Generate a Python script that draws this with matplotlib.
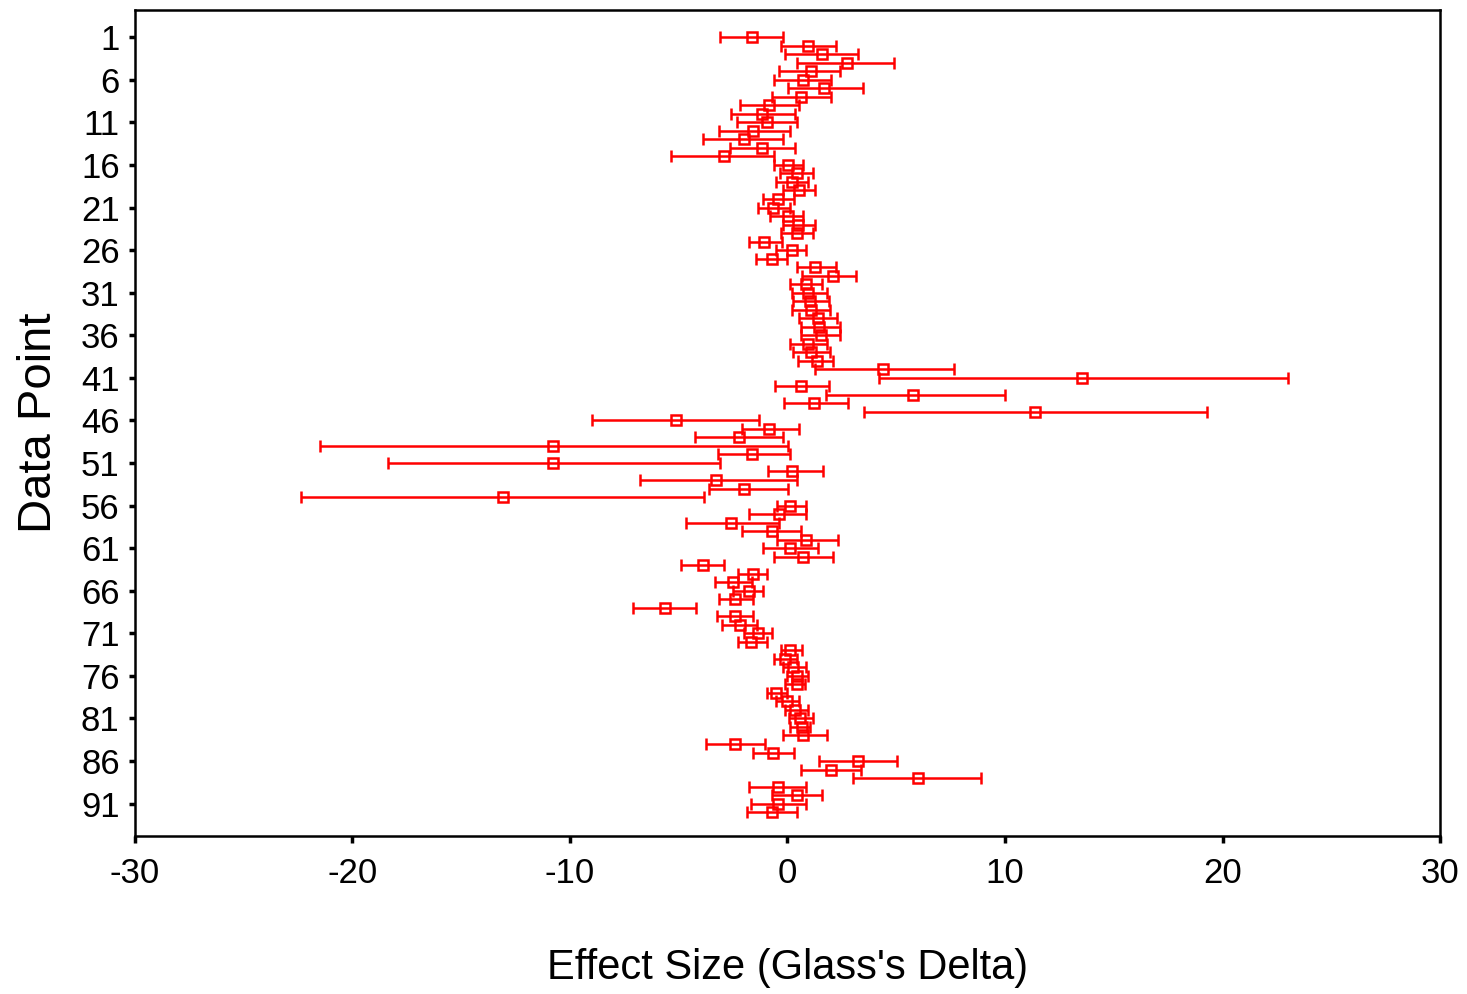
import numpy as np
import matplotlib
matplotlib.use("Agg")
import matplotlib.pyplot as plt

plt.rcParams['font.family'] = ['Liberation Sans', 'DejaVu Sans']
plt.rcParams['axes.unicode_minus'] = False

# effect sizes (Glass's delta) with lower / upper confidence limits, data points 1..92
effect = [-1.65, 0.96, 1.57, 2.72, 1.07, 0.73, 1.68, 0.64, -0.84, -1.16,
          -0.96, -1.57, -2.00, -1.16, -2.92, 0.03, 0.42, 0.19, 0.54, -0.42,
          -0.65, 0.03, 0.50, 0.42, -1.08, 0.20, -0.72, 1.26, 2.11, 0.85,
          0.95, 1.05, 1.10, 1.40, 1.45, 1.55, 0.95, 1.10, 1.35, 4.40,
          13.55, 0.62, 5.75, 1.20, 11.40, -5.13, -0.85, -2.25, -10.80, -1.65,
          -10.80, 0.22, -3.30, -2.00, -13.10, 0.11, -0.39, -2.61, -0.73, 0.84,
          0.11, 0.73, -3.87, -1.57, -2.52, -1.77, -2.41, -5.63, -2.41, -2.18,
          -1.37, -1.68, 0.11, -0.11, 0.27, 0.42, 0.42, -0.53, -0.04, 0.34,
          0.57, 0.65, 0.73, -2.41, -0.65, 3.26, 2.00, 5.98, -0.42, 0.42,
          -0.42, -0.73]
lower = [-3.10, -0.30, -0.10, 0.44, -0.41, -0.62, 0.01, -0.71, -2.18, -2.60,
         -2.34, -3.13, -3.87, -2.64, -5.34, -0.61, -0.34, -0.53, -0.19, -1.14,
         -1.36, -0.80, -0.19, -0.30, -1.77, -0.52, -1.46, 0.42, 0.65, 0.11,
         0.19, 0.27, 0.20, 0.54, 0.62, 0.62, 0.11, 0.27, 0.50, 1.25,
         4.20, -0.56, 1.75, -0.17, 3.53, -8.99, -2.11, -4.25, -21.50, -3.21,
         -18.36, -0.88, -6.78, -3.60, -22.38, -0.50, -1.77, -4.68, -2.08, -0.50,
         -1.14, -0.62, -4.91, -2.29, -3.33, -2.49, -3.13, -7.10, -3.26, -3.03,
         -1.99, -2.29, -0.30, -0.62, -0.22, -0.04, -0.11, -0.96, -0.53, -0.11,
         0.08, 0.11, -0.19, -3.76, -1.57, 1.45, 0.62, 3.03, -1.77, -0.73,
         -1.68, -1.88]
upper = [-0.21, 2.22, 3.26, 4.91, 2.41, 1.98, 3.46, 1.98, 0.54, 0.33,
         0.42, 0.11, -0.21, 0.33, -0.62, 0.73, 1.16, 0.96, 1.26, 0.30,
         0.11, 0.70, 1.26, 1.16, -0.25, 0.85, 0.00, 2.22, 3.15, 1.57,
         1.80, 1.90, 1.95, 2.29, 2.41, 2.41, 1.80, 1.95, 2.10, 7.65,
         23.00, 1.90, 10.00, 2.78, 19.30, -1.33, 0.55, -0.20, 0.02, 0.12,
         -3.12, 1.61, 0.45, 0.02, -3.86, 0.84, 0.84, -0.39, 0.64, 2.31,
         1.39, 2.11, -2.92, -0.93, -1.65, -1.14, -1.57, -4.19, -1.57, -1.42,
         -0.73, -0.96, 0.65, 0.42, 0.85, 0.96, 0.80, -0.04, 0.53, 0.96,
         1.16, 1.03, 1.80, -1.03, 0.31, 5.02, 3.36, 8.90, 0.85, 1.57,
         0.85, 0.42]

effect = np.array(effect)
lower = np.array(lower)
upper = np.array(upper)
point = np.arange(1, len(effect) + 1)

fig = plt.figure(figsize=(14.67, 9.94), dpi=100)
ax = fig.add_axes([0.092, 0.159, 0.8896, 0.831])

ax.errorbar(effect, point, xerr=[effect - lower, upper - effect],
            fmt='s', color='#ff0000', ecolor='#ff0000', mfc='none', mec='#ff0000',
            ms=7.5, mew=1.8, elinewidth=1.8, capsize=4.5, capthick=1.8)

ax.set_xlim(-30, 30)
ax.set_ylim(94.8, -2.2)
ax.set_xticks([-30, -20, -10, 0, 10, 20, 30])
ax.set_yticks(np.arange(1, 92, 5))

for s in ax.spines.values():
    s.set_linewidth(1.8)
ax.tick_params(axis='both', direction='out', width=2.5, labelsize=25)
ax.tick_params(axis='x', length=5, pad=10)
ax.tick_params(axis='y', length=4, pad=7)

ax.set_xlabel("Effect Size (Glass's Delta)", fontsize=30, labelpad=42)
ax.set_ylabel("Data Point", fontsize=34, labelpad=14)

fig.savefig('out.png', dpi=100, facecolor='white')
